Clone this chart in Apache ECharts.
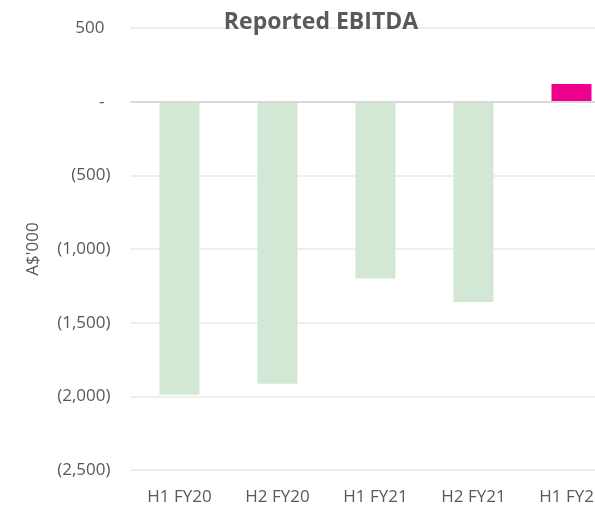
<!DOCTYPE html>
<html><head><meta charset="utf-8">
<script src="https://cdn.jsdelivr.net/npm/echarts@6/dist/echarts.min.js"></script>
<style>html,body{margin:0;padding:0;background:#fff;overflow:hidden;width:595px;height:506px}#c{width:626px;height:506px}</style>
</head><body><div id="c"></div>
<script>
const categories = ['H1 FY20', 'H2 FY20', 'H1 FY21', 'H2 FY21', 'H1 FY22'];
const ebitda = [-1990, -1915, -1200, -1360, 120];
const barColors = ['#d2e8d5', '#d2e8d5', '#d2e8d5', '#d2e8d5', '#ec008c'];

function fmt(v) {
  if (v === 0) return '{p|-}';
  const s = Math.abs(v).toLocaleString('en-US');
  return v < 0 ? '(' + s + ')' : '{p|' + s + '}';
}

const labelFont = {color: '#595959', fontFamily: 'Open Sans', fontSize: 17};
const chart = echarts.init(document.getElementById('c'), null, {renderer: 'canvas'});
chart.setOption({
  animation: false,
  title: {
    text: 'Reported EBITDA', left: 316, top: 6, textAlign: 'center',
    textStyle: {fontFamily: 'Open Sans', fontWeight: 'bold', fontSize: 23, color: '#595959'}
  },
  grid: {left: 130.5, right: 5.5, top: 28, bottom: 36, containLabel: false},
  xAxis: {
    type: 'category', data: categories,
    axisLine: {show: false}, axisTick: {show: false},
    axisLabel: Object.assign({margin: 19}, labelFont)
  },
  yAxis: {
    type: 'value', min: -2500, max: 500, interval: 500,
    name: "A$'000", nameLocation: 'middle', nameGap: 89, nameRotate: 90,
    nameTextStyle: labelFont,
    axisLine: {show: false}, axisTick: {show: false},
    axisLabel: Object.assign({margin: 20, formatter: fmt,
      rich: {p: Object.assign({padding: [0, 6, 0, 0]}, labelFont)}}, labelFont),
    splitLine: {lineStyle: {color: '#e8e8e8', width: 1.5}}
  },
  series: [{
    type: 'bar', barWidth: 40,
    data: ebitda.map((v, i) => ({value: v, itemStyle: {color: barColors[i]}})),
    markLine: {
      silent: true, symbol: 'none', label: {show: false},
      lineStyle: {color: '#d9d9d9', type: 'solid', width: 2},
      data: [{yAxis: 0}]
    }
  }]
});
</script></body></html>
